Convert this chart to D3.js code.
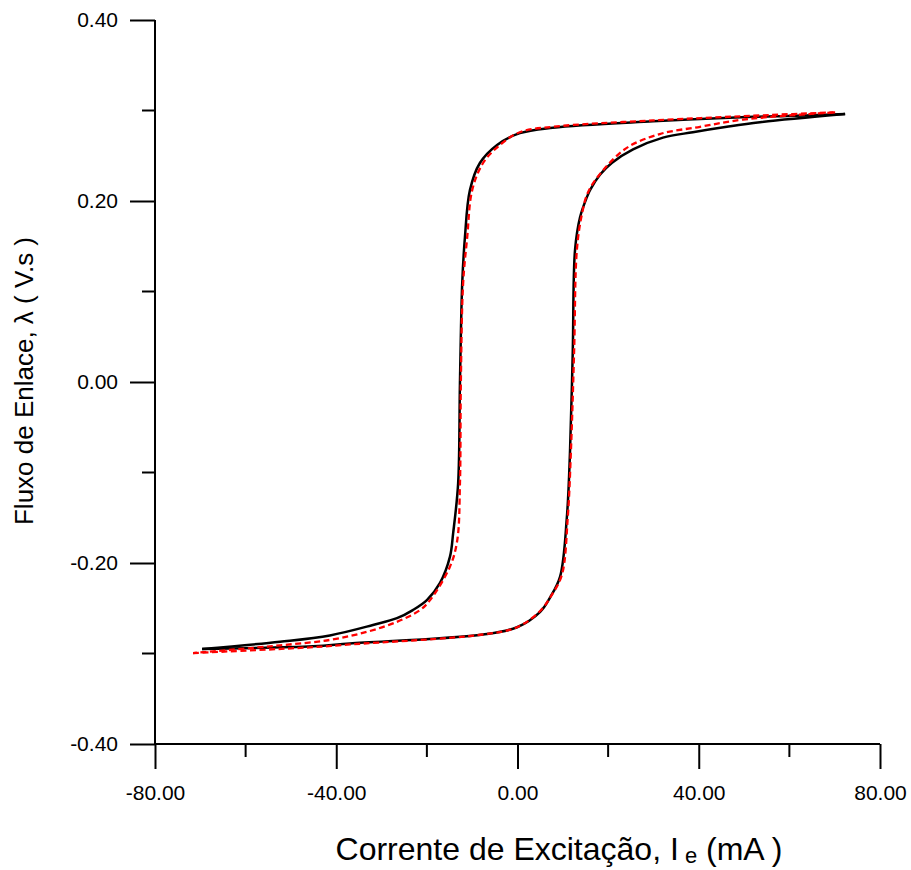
<!DOCTYPE html>
<html>
<head>
<meta charset="utf-8">
<script src="https://cdn.jsdelivr.net/npm/d3@7"></script>
<style>
  body { margin: 0; background: #fff; }
  text { font-family: "Liberation Sans", Arial, sans-serif; }
</style>
</head>
<body>
<svg id="chart"></svg>
<script>
// *** Data ***
// measured loop, black solid: upper branch (from +tip going down) then lower branch
var measuredUpperX = [72.3, 59.5, 52.0, 29.9, 7.8, 0.5, -4.5, -8.3, -10.5, -11.6, -12.2, -12.7, -13.1, -14.2, -14.9, -17.1, -20.0, -23.1, -26.6, -31.9, -41.4, -52.4, -69.6];
var measuredUpperY = [0.296, 0.294, 0.293, 0.288, 0.281, 0.275, 0.262, 0.242, 0.212, 0.160, 0.109, -0.001, -0.112, -0.167, -0.193, -0.222, -0.241, -0.252, -0.261, -0.2685, -0.280, -0.287, -0.295];
var measuredLowerX = [-69.6, -45.1, -37.0, -7.6, -0.1, 5.0, 7.2, 9.4, 10.9, 11.6, 12.2, 12.7, 13.8, 15.3, 16.0, 18.2, 20.8, 25.5, 32.1, 38.7, 46.2, 53.5, 72.3];
var measuredLowerY = [-0.295, -0.292, -0.289, -0.279, -0.271, -0.254, -0.238, -0.215, -0.149, -0.075, 0.035, 0.146, 0.182, 0.204, 0.212, 0.229, 0.242, 0.257, 0.270, 0.276, 0.282, 0.287, 0.296];

// simulated loop, red dashed
var simUpperX = [70.1, 55.7, 29.9, 7.8, 0.5, -4.1, -7.6, -10.0, -11.1, -12.0, -12.5, -12.7, -13.3, -14.9, -19.3, -21.5, -26.6, -33.2, -41.4, -52.4, -71.6];
var simUpperY = [0.298, 0.295, 0.289, 0.282, 0.276, 0.261, 0.242, 0.212, 0.160, 0.109, -0.001, -0.112, -0.175, -0.204, -0.241, -0.252, -0.265, -0.276, -0.285, -0.291, -0.2995];
var simLowerX = [-71.6, -45.1, -37.0, -7.6, -0.1, 5.0, 7.6, 9.8, 11.1, 11.8, 12.5, 13.1, 14.2, 15.6, 18.9, 24.2, 31.4, 40.3, 49.8, 70.1];
var simLowerY = [-0.2995, -0.293, -0.290, -0.279, -0.271, -0.253, -0.235, -0.213, -0.149, -0.075, 0.035, 0.146, 0.185, 0.210, 0.234, 0.259, 0.274, 0.282, 0.290, 0.298];

var xMajorTicks = [-80, -40, 0, 40, 80];
var xMinorTicks = [-60, -20, 20, 60];
var yMajorTicks = [-0.4, -0.2, 0, 0.2, 0.4];
var yMinorTicks = [-0.3, -0.1, 0.1, 0.3];

// *** Sizes ***
var svgWidth = 911, svgHeight = 870;
var plotLeft = 155, plotRight = 880, plotTop = 20, plotBottom = 744;

var svg = d3.select("#chart")
    .attr("width", svgWidth)
    .attr("height", svgHeight);

var xScale = d3.scaleLinear().domain([-80, 80]).range([plotLeft, plotRight]);
var yScale = d3.scaleLinear().domain([-0.4, 0.4]).range([plotBottom, plotTop]);

function zip(xs, ys) {
    return xs.map(function (x, i) { return [x, ys[i]]; });
}

var line = d3.line()
    .x(function (d) { return xScale(d[0]); })
    .y(function (d) { return yScale(d[1]); })
    .curve(d3.curveCatmullRom.alpha(0.5));

// *** Curves ***
[zip(measuredUpperX, measuredUpperY), zip(measuredLowerX, measuredLowerY)].forEach(function (pts) {
    svg.append("path")
        .attr("d", line(pts))
        .attr("fill", "none")
        .attr("stroke", "#000")
        .attr("stroke-width", 2.5);
});

[zip(simUpperX, simUpperY), zip(simLowerX, simLowerY)].forEach(function (pts) {
    svg.append("path")
        .attr("d", line(pts))
        .attr("fill", "none")
        .attr("stroke", "#ff0000")
        .attr("stroke-width", 2.3)
        .attr("stroke-dasharray", "6,3.5");
});

// *** Axes ***
var fmt = function (d) { return d.toFixed(2); };

var xAxis = d3.axisBottom(xScale)
    .tickValues(xMajorTicks)
    .tickSize(25)
    .tickPadding(16)
    .tickFormat(fmt);

var gx = svg.append("g")
    .attr("transform", "translate(0," + plotBottom + ")")
    .call(xAxis);

xMinorTicks.forEach(function (t) {
    gx.append("line")
        .attr("x1", xScale(t)).attr("x2", xScale(t))
        .attr("y1", 0).attr("y2", 13);
});

var yAxis = d3.axisLeft(yScale)
    .tickValues(yMajorTicks)
    .tickSize(25)
    .tickPadding(12)
    .tickFormat(fmt);

var gy = svg.append("g")
    .attr("transform", "translate(" + plotLeft + ",0)")
    .call(yAxis);

yMinorTicks.forEach(function (t) {
    gy.append("line")
        .attr("x1", 0).attr("x2", -13)
        .attr("y1", yScale(t)).attr("y2", yScale(t));
});

gx.select(".domain").attr("d", "M" + plotLeft + ",0H" + plotRight);
gy.select(".domain").attr("d", "M0," + plotTop + "V" + plotBottom);

[gx, gy].forEach(function (g) {
    g.select(".domain").attr("stroke", "#000").attr("stroke-width", 2);
    g.selectAll("line").attr("stroke", "#000").attr("stroke-width", 2);
    g.selectAll("text")
        .attr("fill", "#000")
        .style("font-size", "21px")
        .style("font-family", "'Liberation Sans', Arial, sans-serif");
});

// *** Axis titles ***
var xTitle = svg.append("text")
    .attr("x", 559)
    .attr("y", 860)
    .attr("text-anchor", "middle")
    .style("font-size", "32px")
    .attr("fill", "#000");
xTitle.append("tspan").text("Corrente de Excitação, I");
xTitle.append("tspan").attr("dy", 3).style("font-size", "22px").text(" e");
xTitle.append("tspan").attr("dy", -3).text(" (mA )");

svg.append("text")
    .attr("transform", "translate(33,381) rotate(-90)")
    .attr("text-anchor", "middle")
    .style("font-size", "26px")
    .attr("fill", "#000")
    .text("Fluxo de Enlace, λ ( V.s )");
</script>
</body>
</html>
